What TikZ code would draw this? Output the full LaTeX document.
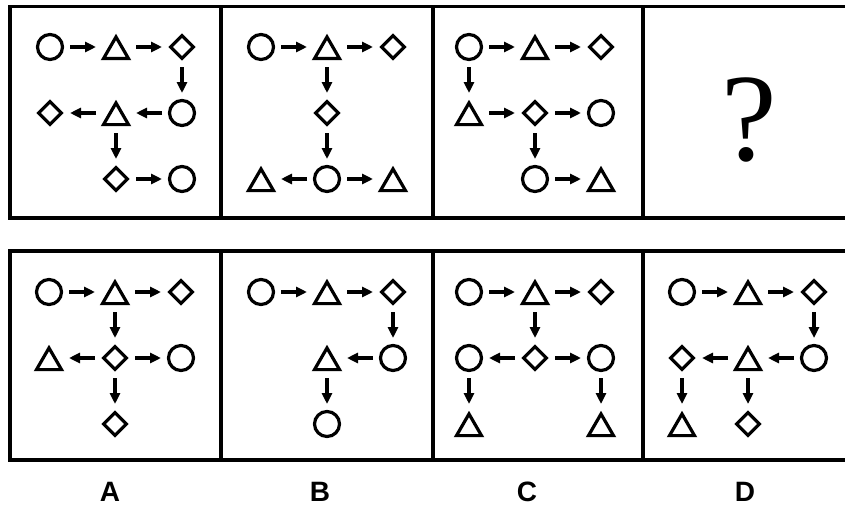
\documentclass[tikz,border=0pt]{standalone}
\usepackage{fontspec}
\usetikzlibrary{arrows.meta,shapes.geometric}
\newfontfamily\qfont{Liberation Serif}
\newfontfamily\lblfont{Liberation Sans}

\begin{document}
\begin{tikzpicture}[x=1pt,y=-1pt,
    frame/.style={line width=3.5pt},
    circ/.style={circle, draw, line width=3.2pt, minimum size=25pt, inner sep=0pt},
    dia/.style={diamond, draw, line width=3.2pt, minimum size=24pt, inner sep=0pt},
    tri/.style={minimum size=40pt, inner sep=0pt, path picture={
        \draw[line width=3.2pt] ([shift={(-12.5pt,-11.6pt)}]path picture bounding box.center)
            -- ++(25pt,0pt) -- ++(-12.5pt,21.65pt) -- cycle;}},
    arr/.style={-{Triangle[length=11pt,width=10pt]}, line width=3.2pt, shorten <=20pt, shorten >=20pt},
    lbl/.style={font=\lblfont\bfseries\fontsize{28}{30}\selectfont}]
    \useasboundingbox (0,0) rectangle (845,511);
    \clip (0,0) rectangle (845,511);
    % frames
    \draw[frame] (10,6.5) rectangle (854,218);
    \draw[frame] (10,251) rectangle (854,460);
    \foreach \x in {221,433,643} {
        \draw[frame] (\x,6.5) -- (\x,218);
        \draw[frame] (\x,251) -- (\x,460);
    }
    % shapes
    \foreach \bx/\cx/\cy/\cells in {
        t1/116/113/{circ/1/1,tri/1/2,dia/1/3,dia/2/1,tri/2/2,circ/2/3,dia/3/2,circ/3/3},
        t2/327/113/{circ/1/1,tri/1/2,dia/1/3,dia/2/2,tri/3/1,circ/3/2,tri/3/3},
        t3/535/113/{circ/1/1,tri/1/2,dia/1/3,tri/2/1,dia/2/2,circ/2/3,circ/3/2,tri/3/3},
        a/115/358/{circ/1/1,tri/1/2,dia/1/3,tri/2/1,dia/2/2,circ/2/3,dia/3/2},
        b/327/358/{circ/1/1,tri/1/2,dia/1/3,tri/2/2,circ/2/3,circ/3/2},
        c/535/358/{circ/1/1,tri/1/2,dia/1/3,circ/2/1,dia/2/2,circ/2/3,tri/3/1,tri/3/3},
        d/748/358/{circ/1/1,tri/1/2,dia/1/3,dia/2/1,tri/2/2,circ/2/3,tri/3/1,dia/3/2}} {
        \foreach \s/\r/\c in \cells {
            \node[\s] (\bx-\r\c) at ({\cx+66*(\c-2)},{\cy+66*(\r-2)}) {};
        }
    }
    % arrows
    \foreach \bx/\arrs in {
        t1/{11/12,12/13,13/23,23/22,22/21,22/32,32/33},
        t2/{11/12,12/13,12/22,22/32,32/31,32/33},
        t3/{11/12,12/13,11/21,21/22,22/23,22/32,32/33},
        a/{11/12,12/13,12/22,22/21,22/23,22/32},
        b/{11/12,12/13,13/23,23/22,22/32},
        c/{11/12,12/13,12/22,22/21,22/23,21/31,23/33},
        d/{11/12,12/13,13/23,23/22,22/21,21/31,22/32}} {
        \foreach \p/\q in \arrs {
            \draw[arr] (\bx-\p.center) -- (\bx-\q.center);
        }
    }
    \node[font=\qfont\fontsize{125}{130}\selectfont] (qm) at (749,120) {?};
    \node[lbl] (la) at (110,492) {A};
    \node[lbl] (lb) at (320,492) {B};
    \node[lbl] (lc) at (527,492) {C};
    \node[lbl] (ld) at (745,492) {D};
\end{tikzpicture}
\end{document}
